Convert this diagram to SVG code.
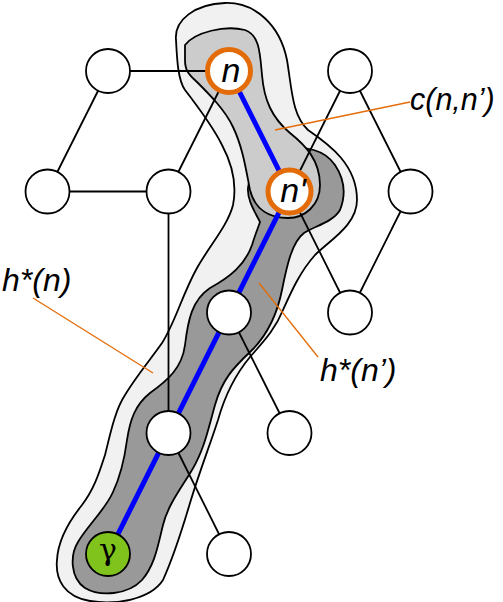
<svg xmlns="http://www.w3.org/2000/svg" width="503" height="602" viewBox="0 0 503 602">
<style>
.blob{stroke:#000;stroke-width:1.8;stroke-linejoin:round}
.edge{stroke:#000;stroke-width:1.8;fill:none}
.path{stroke:#0000ff;stroke-width:5;fill:none;stroke-linecap:round}
.lead{stroke:#e36c09;stroke-width:1.3;fill:none}
.node{fill:#fff;stroke:#000;stroke-width:1.8}
.onode{fill:#fff;stroke:#e36c09;stroke-width:5}
.lbl{font-family:"Liberation Sans",Arial,sans-serif;font-style:italic;fill:#000}
</style>
<g id="regions">
<path id="h-n" class="blob" fill="#f1f1f1" d="M 176,40 C 174,20 195,4 225,3 C 255,2 280,25 287,60 C 292,90 292,115 308,130 C 330,145 357,165 357,200 C 357,225 330,240 315,255 C 300,272 292,290 283,310 C 275,330 262,343 250,357 C 235,375 225,395 218,420 C 210,445 200,470 190,503 C 182,530 172,560 163,580 C 150,600 115,605 90,601 C 65,597 55,580 57,560 C 58,540 70,520 82,505 C 95,488 100,470 105,455 C 110,435 115,410 125,395 C 135,378 150,360 162,343 C 175,323 182,295 197,268 C 210,245 228,225 233,205 C 238,180 230,160 222,145 C 212,125 195,103 185,90 C 178,80 177,60 176,40 Z"/>
<path id="h-n2" class="blob" fill="#999999" d="M 260,222 C 255,212 247,200 248,188 C 249,172 262,158 285,150 C 305,145 325,150 335,165 C 345,180 346,195 340,210 C 333,222 315,226 304,233 C 292,242 287,265 282,290 C 277,315 268,335 250,352 C 233,368 222,380 215,405 C 208,430 204,450 192,470 C 180,490 168,505 163,525 C 158,545 155,565 142,580 C 128,595 100,597 85,588 C 70,578 70,555 78,542 C 88,525 105,510 113,492 C 121,475 125,455 127,440 C 130,420 135,405 150,393 C 168,380 182,368 185,345 C 188,320 192,300 210,288 C 230,277 245,265 252,245 C 255,235 258,228 260,222 Z"/>
<path id="c-nn" class="blob" fill="#cccccc" d="M 185,45 C 195,32 225,25 245,30 C 260,35 260,55 262,75 C 264,100 272,118 290,133 C 305,145 320,160 320,185 C 320,205 305,218 288,218 C 270,218 255,210 250,190 C 246,170 243,148 233,127 C 225,110 210,95 197,82 C 188,74 185,70 185,60 Z"/>
</g>
<g id="connectors">
<line class="edge" x1="108" y1="71" x2="229" y2="71"/>
<line class="edge" x1="108" y1="71" x2="47.5" y2="191.5"/>
<line class="edge" x1="47.5" y1="191.5" x2="168.5" y2="191.5"/>
<line class="edge" x1="168.5" y1="191.5" x2="229" y2="71"/>
<line class="edge" x1="168.5" y1="191.5" x2="168.5" y2="433"/>
<line class="edge" x1="350" y1="71" x2="289.5" y2="191.5"/>
<line class="edge" x1="350" y1="71" x2="410.5" y2="191.5"/>
<line class="edge" x1="289.5" y1="191.5" x2="350" y2="312.5"/>
<line class="edge" x1="410.5" y1="191.5" x2="350" y2="312.5"/>
<line class="edge" x1="229" y1="312.5" x2="289.5" y2="433"/>
<line class="edge" x1="168.5" y1="433" x2="229" y2="554"/>
<polyline class="path" points="229,71 289.5,191.5 108,554"/>
<line class="lead" x1="275" y1="130" x2="410" y2="102"/>
<line class="lead" x1="33" y1="298" x2="153" y2="373"/>
<line class="lead" x1="259" y1="283" x2="318" y2="357"/>
</g>
<g id="node-A"><circle class="node" cx="108" cy="71" r="22"/></g>
<g id="node-n"><circle class="onode" cx="229" cy="71" r="21.5"/><text class="lbl" x="231" y="82" font-size="34" text-anchor="middle">n</text></g>
<g id="node-B"><circle class="node" cx="350" cy="71" r="22"/></g>
<g id="node-C"><circle class="node" cx="47.5" cy="191.5" r="22"/></g>
<g id="node-D"><circle class="node" cx="168.5" cy="191.5" r="22"/></g>
<g id="node-n2"><circle class="onode" cx="289.5" cy="191.5" r="21.5"/><text class="lbl" x="293" y="202" font-size="34" text-anchor="middle">n'</text></g>
<g id="node-E"><circle class="node" cx="410.5" cy="191.5" r="22"/></g>
<g id="node-F"><circle class="node" cx="229" cy="312.5" r="22"/></g>
<g id="node-G"><circle class="node" cx="350" cy="312.5" r="22"/></g>
<g id="node-H"><circle class="node" cx="168.5" cy="433" r="22"/></g>
<g id="node-I"><circle class="node" cx="289.5" cy="433" r="22"/></g>
<g id="node-gamma"><circle class="node" cx="108" cy="554" r="22" style="fill:#7fc31c"/><text x="108" y="560" font-size="30" text-anchor="middle" font-family="'DejaVu Serif',serif">γ</text></g>
<g id="node-J"><circle class="node" cx="229" cy="554" r="22"/></g>
<g id="labels">
<text class="lbl" x="410" y="110" font-size="30.5">c(n,n’)</text>
<text class="lbl" x="2" y="291" font-size="32">h*(n)</text>
<text class="lbl" x="320" y="381" font-size="32">h*(n’)</text>
</g>
</svg>
